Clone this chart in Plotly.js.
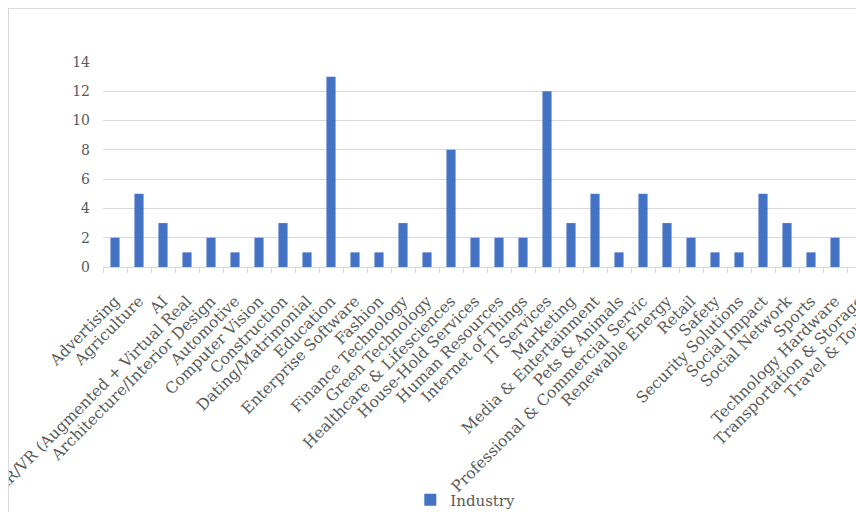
<!DOCTYPE html>
<html>
<head>
<meta charset="utf-8">
<script src="https://cdn.plot.ly/plotly-3.0.1.min.js"></script>
<style>
  html, body { margin: 0; padding: 0; width: 856px; height: 512px; overflow: hidden; background: #ffffff; }
  #frame { position: absolute; left: 8px; top: 8px; width: 960px; height: 520px;
           border-left: 1px solid #d9d9d9; border-top: 1px solid #d9d9d9; overflow: hidden; }
  #chart { position: absolute; left: 0; top: 0; }
</style>
</head>
<body>
<div id="frame"><div id="chart"></div></div>
<script>
// Categories (x-axis tick labels as shown, long ones truncated as in the reference)
const categories = [
  "Advertising",
  "Agriculture",
  "AI",
  "AR/VR (Augmented + Virtual Real",
  "Architecture/Interior Design",
  "Automotive",
  "Computer Vision",
  "Construction",
  "Dating/Matrimonial",
  "Education",
  "Enterprise Software",
  "Fashion",
  "Finance Technology",
  "Green Technology",
  "Healthcare & Lifesciences",
  "House-Hold Services",
  "Human Resources",
  "Internet of Things",
  "IT Services",
  "Marketing",
  "Media & Entertainment",
  "Pets & Animals",
  "Professional & Commercial Servic",
  "Renewable Energy",
  "Retail",
  "Safety",
  "Security Solutions",
  "Social Impact",
  "Social Network",
  "Sports",
  "Technology Hardware",
  "Transportation & Storage",
  "Travel & Tourism"
];

// Industry counts (last two bars lie outside the cropped picture, so unknown)
const industry = [
  2, 5, 3, 1, 2, 1, 2, 3, 1, 13,
  1, 1, 3, 1, 8, 2, 2, 2, 12, 3,
  5, 1, 5, 3, 2, 1, 1, 5, 3, 1,
  2, null, null
];

const seriesName = "Industry";
const yTicks = [0, 2, 4, 6, 8, 10, 12, 14];

const trace = {
  type: "bar",
  x: categories,
  y: industry,
  name: seriesName,
  marker: { color: "#4472c4" },
  showlegend: true,
  hoverinfo: "x+y"
};

const layout = {
  width: 916,
  height: 503,
  margin: { l: 94, r: 30, t: 53, b: 245, autoexpand: false },
  paper_bgcolor: "#ffffff",
  plot_bgcolor: "#ffffff",
  bargap: 0.62,
  font: { family: "DejaVu Serif, serif", color: "#595959", size: 14 },
  xaxis: {
    type: "category",
    tickangle: -45,
    tickfont: { family: "DejaVu Serif, serif", size: 15.5, color: "#595959" },
    showline: true,
    linecolor: "#d9d9d9",
    linewidth: 1,
    ticks: "outside",
    tickson: "boundaries",
    ticklen: 5,
    tickcolor: "#d9d9d9",
    ticklabelstandoff: 18,
    showgrid: false,
    automargin: false
  },
  yaxis: {
    range: [0, 14],
    tickvals: yTicks,
    tickfont: { family: "DejaVu Serif, serif", size: 14, color: "#595959" },
    showgrid: true,
    gridcolor: "#d9d9d9",
    gridwidth: 1,
    zeroline: false,
    showline: false,
    ticks: "",
    ticklabelstandoff: 12,
    automargin: false
  },
  showlegend: true,
  legend: {
    orientation: "h",
    x: 0.388,
    xanchor: "left",
    yref: "container",
    y: 0.024,
    yanchor: "middle",
    font: { family: "DejaVu Serif, serif", size: 15, color: "#595959" },
    bgcolor: "rgba(0,0,0,0)"
  }
};

Plotly.newPlot("chart", [trace], layout, { displayModeBar: false, staticPlot: true });
</script>
</body>
</html>
